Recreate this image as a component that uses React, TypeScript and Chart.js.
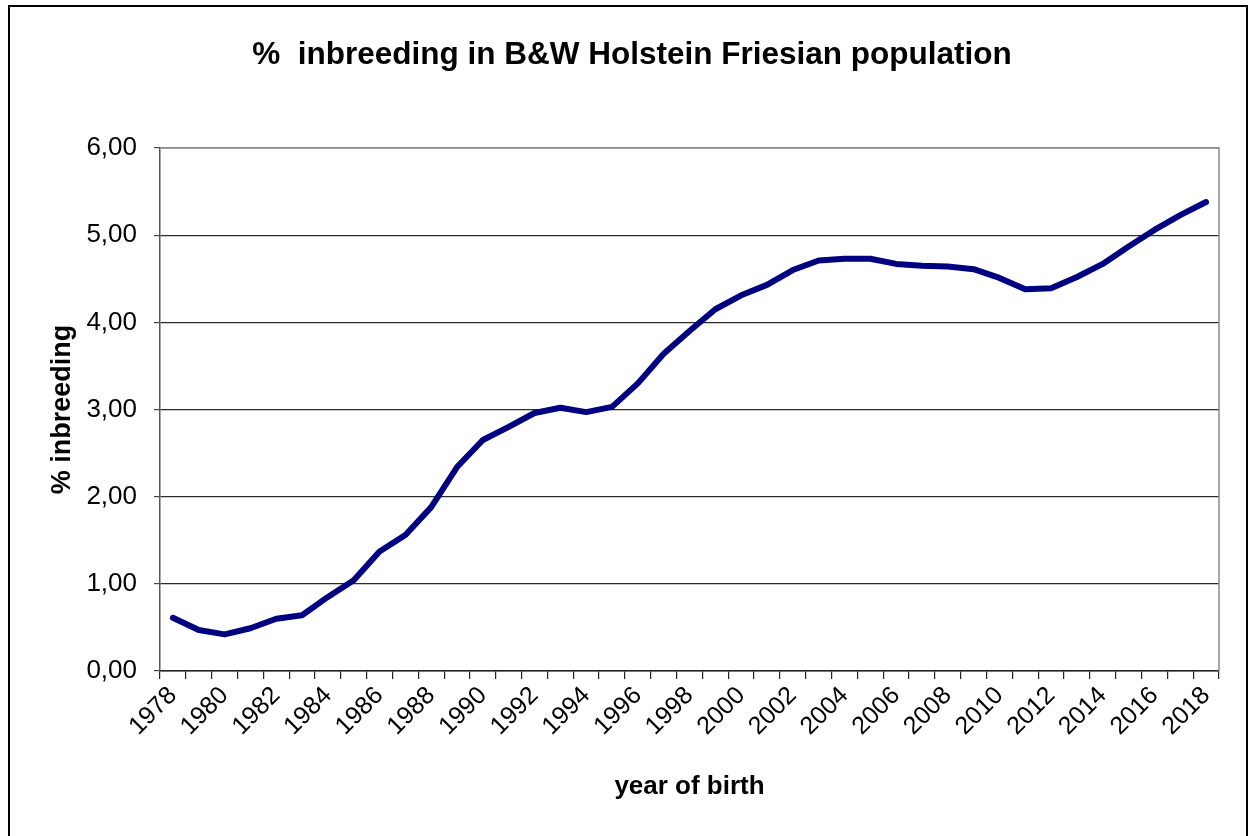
import React, { useEffect, useRef } from "react";
import { Chart, registerables } from "chart.js";

Chart.register(...registerables);

const years: string[] = [
  "1978", "1979", "1980", "1981", "1982", "1983", "1984", "1985", "1986", "1987",
  "1988", "1989", "1990", "1991", "1992", "1993", "1994", "1995", "1996", "1997",
  "1998", "1999", "2000", "2001", "2002", "2003", "2004", "2005", "2006", "2007",
  "2008", "2009", "2010", "2011", "2012", "2013", "2014", "2015", "2016", "2017",
  "2018",
];

const inbreeding: number[] = [
  0.61, 0.47, 0.42, 0.49, 0.6, 0.64, 0.85, 1.04, 1.37, 1.56,
  1.88, 2.34, 2.65, 2.8, 2.96, 3.02, 2.97, 3.03, 3.3, 3.64,
  3.9, 4.15, 4.31, 4.43, 4.6, 4.71, 4.73, 4.73, 4.67, 4.65,
  4.64, 4.61, 4.51, 4.38, 4.39, 4.52, 4.67, 4.87, 5.06, 5.23,
  5.38,
];

const yMin = 0;
const yMax = 6;
const yStep = 1;

const titleText = "%  inbreeding in B&W Holstein Friesian population";
const yTitle = "% inbreeding";
const xTitle = "year of birth";

const FONT = "'Liberation Sans', Arial, sans-serif";

const plotBorder = {
  id: "plotBorder",
  afterDatasetsDraw(chart: any) {
    const { ctx, chartArea } = chart;
    ctx.save();
    ctx.strokeStyle = "#8a8a8a";
    ctx.lineWidth = 1.5;
    ctx.beginPath();
    ctx.moveTo(chartArea.left, chartArea.top);
    ctx.lineTo(chartArea.right, chartArea.top);
    ctx.lineTo(chartArea.right, chartArea.bottom);
    ctx.stroke();
    ctx.restore();
  },
};

export default function App() {
  const ref = useRef<HTMLCanvasElement | null>(null);

  useEffect(() => {
    if (!ref.current) return;
    const chart = new Chart(ref.current, {
      type: "line",
      data: {
        labels: years,
        datasets: [
          {
            data: inbreeding,
            borderColor: "#000080",
            borderWidth: 6,
            pointRadius: 0,
            tension: 0,
            borderCapStyle: "round",
            borderJoinStyle: "round",
            fill: false,
          },
        ],
      },
      options: {
        responsive: false,
        animation: false,
        layout: { padding: { left: 45, right: 37, top: 0, bottom: 0 } },
        plugins: {
          legend: { display: false },
          tooltip: { enabled: false },
          title: {
            display: true,
            text: titleText,
            color: "#000",
            font: { family: FONT, size: 31.5, weight: "bold" },
            padding: { top: 36, bottom: 74.2 },
          },
        },
        scales: {
          x: {
            type: "category",
            offset: true,
            grid: {
              display: true,
              offset: true,
              drawOnChartArea: false,
              drawTicks: true,
              tickLength: 8,
              color: "#222",
              lineWidth: 1.2,
            },
            border: { display: true, color: "#222", width: 1.5 },
            ticks: {
              autoSkip: false,
              maxRotation: 45,
              minRotation: 45,
              padding: 2,
              color: "#000",
              font: { family: FONT, size: 25 },
              callback: (_v: any, i: number) => (i % 2 === 0 ? years[i] : ""),
            },
            title: {
              display: true,
              text: xTitle,
              color: "#000",
              font: { family: FONT, size: 26, weight: "bold" },
              padding: { top: 0, bottom: 34 },
            },
            afterFit: (scale: any) => {
              scale.height = 165;
            },
          },
          y: {
            min: yMin,
            max: yMax,
            grid: {
              color: (c: any) => (c.tick && c.tick.value === yMax ? "#8a8a8a" : "#2a2a2a"),
              tickColor: "#444",
              lineWidth: 1.2,
              tickLength: 6,
            },
            border: { display: true, color: "#555", width: 1.5 },
            ticks: {
              stepSize: yStep,
              padding: 17,
              color: "#000",
              font: { family: FONT, size: 26 },
              callback: (v: any) => Number(v).toFixed(2).replace(".", ","),
            },
            title: {
              display: true,
              text: yTitle,
              color: "#000",
              font: { family: FONT, size: 27, weight: "bold" },
              padding: { top: 1, bottom: 0 },
            },
            afterFit: (scale: any) => {
              scale.width = 115;
            },
          },
        },
      },
      plugins: [plotBorder],
    });
    return () => chart.destroy();
  }, []);

  return (
    <div
      style={{
        position: "absolute",
        left: 0,
        top: 0,
        width: 1256,
        height: 836,
        overflow: "hidden",
        background: "#fff",
      }}
    >
      <div
        style={{
          position: "absolute",
          left: 8,
          top: 5,
          width: 1236,
          height: 860,
          border: "2px solid #000",
        }}
      />
      <canvas
        ref={ref}
        width={1256}
        height={836}
        style={{ position: "absolute", left: 0, top: 0 }}
      />
    </div>
  );
}
